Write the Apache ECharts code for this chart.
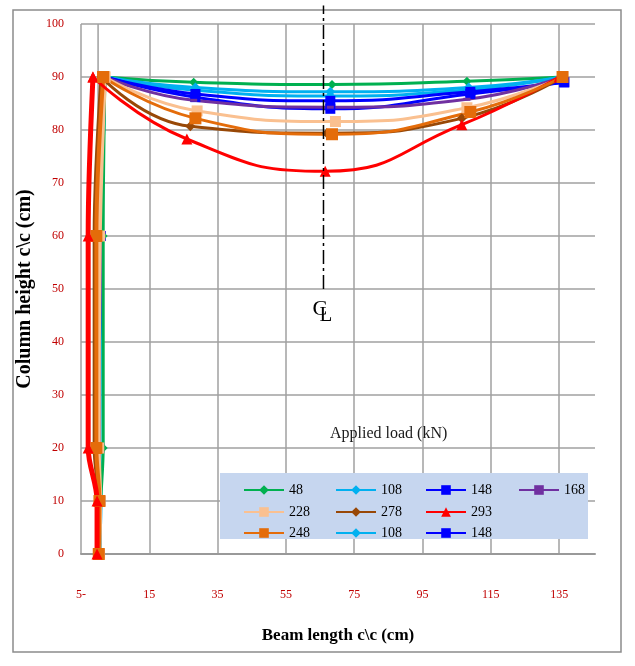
<!DOCTYPE html>
<html><head><meta charset="utf-8">
<script src="https://cdn.jsdelivr.net/npm/echarts@6/dist/echarts.min.js"></script>
<style>html,body{margin:0;padding:0;background:#fff}#c{width:635px;height:666px}</style>
</head><body><div id="c"></div>
<script>
// ---- data ----
const loadLabels = ['48','108','148','168','228','278','293','248','108','148'];
const xTickLabels = ['5-','15','35','55','75','95','115','135'];

// column (vertical member) deflection points [x, height]
const col48   = [[0.5,0],[0.8,10],[1.5,20],[1.5,60],[2,90]];
const col108a = [[0.5,0],[0.8,10],[0.5,20],[1,60],[2,90]];
const col148a = [[0.4,0],[0.6,10],[0.3,20],[0.8,60],[2,90]];
const col168  = [[0.4,0],[0.6,10],[0.3,20],[0.7,60],[2,90]];
const col228  = [[0.4,0],[0.6,10],[0.2,20],[0.5,60],[2,90]];
const col278  = [[0,0],[0.2,10],[-1,20],[-1,60],[1,90]];
const col293  = [[-0.3,0],[-0.3,10],[-2.9,20],[-2.9,60],[-1.5,90]];
const col248  = [[0.2,0],[0.4,10],[-0.5,20],[-0.5,60],[1.5,90]];
const col108b = [[0.5,0],[0.8,10],[0.5,20],[1,60],[2,90]];
const col148b = [[0.4,0],[0.6,10],[0.3,20],[0.8,60],[2,90]];

// beam (horizontal member) deflection points [x, height]
const beam48   = [[2,90],[28,89.0],[68.5,88.6],[108,89.2],[136,90]];
const beam108a = [[2,90],[28.5,88.0],[68,87.2],[108.5,88.0],[136,90]];
const beam148a = [[2,90],[28.5,86.8],[68,85.5],[109,87.2],[136.5,89]];
const beam168  = [[2,90],[28,85.6],[68,84.3],[108,85.8],[136,90]];
const beam228  = [[2,90],[29,83.6],[69.5,81.6],[108,84.2],[136,90]];
const beam278  = [[1,90],[27,80.7],[67,79.4],[106.5,82.2],[136,90]];
const beam293  = [[-1.5,90],[26,78.3],[66.5,72.2],[106.5,81.0],[135,90]];
const beam248  = [[1.5,90],[28.5,82.2],[68.5,79.2],[109,83.4],[136,90]];
const beam108b = [[2,90],[28.5,87.5],[68,86.4],[108.5,87.6],[136,90]];
const beam148b = [[2,90],[28.5,86.2],[68,84.0],[109,86.8],[136.5,89]];

// centre line and the x = 0 axis line
const clLine = [[66,50],[66,103.5]];
const clLabelPos = [66,46];
const zeroLine = [[0,0],[0,100]];

const columns = [col48,col108a,col148a,col168,col228,col278,col293,col248,col108b,col148b];
const beams = [beam48,beam108a,beam148a,beam168,beam228,beam278,beam293,beam248,beam108b,beam148b];

// ---- styles ----
const colors = ['#00b050','#00b0f0','#0000ff','#7030a0','#fac090','#984807','#ff0000','#e46c0a','#00b0f0','#0000ff'];
const symbols = ['diamond','diamond','rect','rect','rect','diamond','triangle','rect','diamond','rect'];
const symbolSizes = [9,10,10,[7,3],11,10,11,12,10,10];
const colWidths = [3,3,3,3,4,4,5,4,3,3];
const colOrder = [1,8,2,9,3,0,4,5,7,6];
const beamOrder = [0,1,8,2,9,3,4,5,6,7];
const legendCols = [238,330,420,513];
const legendRows = [485,507,528];
const legendPos = [[0,0],[1,0],[2,0],[3,0],[0,1],[1,1],[2,1],[0,2],[1,2],[2,2]];

const serif = "'Liberation Serif', 'DejaVu Serif', serif";
const names = loadLabels.map((l,i)=> l + '#' + i);

function common(i){
  return { name: names[i], type:'line', symbol: symbols[i], symbolSize: symbolSizes[i],
    itemStyle:{color: colors[i]}, showAllSymbol:true };
}
const series = [];
series.push({
  name:'axis0', type:'line', data: zeroLine, symbol:'none', silent:true, z:1,
  lineStyle:{color:'#a0a0a0', width:1.5}
});
colOrder.forEach(i=>{
  series.push(Object.assign(common(i), {
    data: columns[i], smooth: 0.35,
    lineStyle:{color: colors[i], width: colWidths[i]}
  }));
});
beamOrder.forEach(i=>{
  series.push(Object.assign(common(i), {
    data: beams[i], smooth: true,
    lineStyle:{color: colors[i], width: 3}
  }));
});
series.push({
  name:'CL', type:'line', data: clLine, symbol:'none', clip:false, silent:true,
  lineStyle:{color:'#000', width:1.5, type:[14,4,3,4]}, z:5
});

const legends = names.map((n,i)=>({
  data:[n], left: legendCols[legendPos[i][0]], top: legendRows[legendPos[i][1]] - 7,
  itemWidth:40, itemHeight:12, itemGap:4, selectedMode:false, z:10,
  formatter: nm => nm.split('#')[0],
  textStyle:{fontFamily: serif, fontSize:14, color:'#000'}
}));

const chart = echarts.init(document.getElementById('c'), null, {renderer:'canvas'});
const option = {
  animation:false,
  backgroundColor:'#fff',
  title:{text:'Applied load (kN)', left:325, top:421,
    textStyle:{fontFamily: serif, fontSize:16, fontWeight:'normal', color:'#1a1a1a'}},
  grid:{left:81, top:24, width:514, height:530, containLabel:false, outerBoundsMode:'none'},
  legend: legends,
  xAxis:{
    type:'value', min:-5, max:145.5, interval:20,
    name:'Beam length c\\c (cm)', nameLocation:'middle', nameGap:73,
    nameTextStyle:{fontFamily: serif, fontSize:17, fontWeight:'bold', color:'#000'},
    axisLine:{show:true, onZero:true, lineStyle:{color:'#999', width:2}},
    axisTick:{show:false},
    axisLabel:{margin:35, fontFamily: serif, fontSize:12, color:'#c00000', showMaxLabel:false,
      formatter: v => { const k = Math.round((v + 5) / 20); return (k>=0 && k<xTickLabels.length && Math.abs(v - (k*20-5))<1e-6) ? xTickLabels[k] : ''; }},
    splitLine:{show:true, showMaxLine:false, lineStyle:{color:'#a0a0a0', width:1.5}}
  },
  yAxis:{
    type:'value', min:0, max:100, interval:10,
    name:'Column height c\\c (cm)', nameLocation:'middle', nameGap:40,
    nameTextStyle:{fontFamily: serif, fontSize:20, fontWeight:'bold', color:'#000'},
    axisLine:{show:false},
    axisTick:{show:false},
    axisLabel:{margin:17, fontFamily: serif, fontSize:12, color:'#c00000'},
    splitLine:{show:true, lineStyle:{color:'#a0a0a0', width:1.5}}
  },
  series: series
};
chart.setOption(option);

const p = chart.convertToPixel({gridIndex:0}, clLabelPos);
chart.setOption({
  graphic:[
    {type:'rect', z:1, silent:true, shape:{x:220, y:473, width:368, height:66}, style:{fill:'#c6d6ef'}},
    {type:'rect', z:0, silent:true, shape:{x:13, y:10, width:608, height:642}, style:{fill:'none', stroke:'#8c8c8c', lineWidth:1.5}},
    {type:'text', z:6, x:p[0]-11, y:p[1]-12, style:{text:'C', font:"22px 'Liberation Serif'", fill:'#000'}},
    {type:'text', z:6, x:p[0]-4, y:p[1]-5, style:{text:'L', font:"21px 'Liberation Serif'", fill:'#000'}}
  ]
});
</script></body></html>
